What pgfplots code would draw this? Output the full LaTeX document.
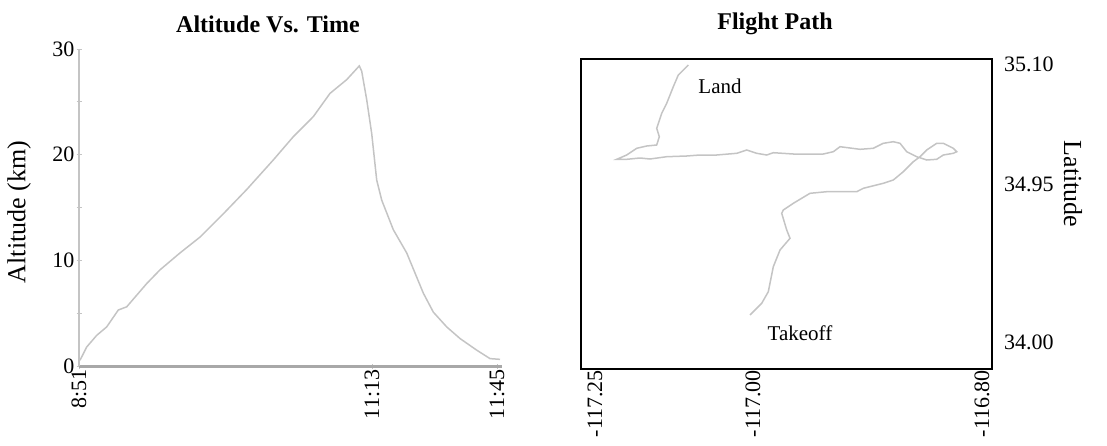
\documentclass[border=0pt]{standalone}
\usepackage{fontspec}
\setmainfont{Liberation Serif}
\usepackage{pgfplots}
\pgfplotsset{compat=1.18}
\definecolor{linegray}{HTML}{C4C4C4}
\definecolor{axgray}{HTML}{A8A8A8}
\begin{document}
\begin{tikzpicture}[x=1pt,y=1pt]
\useasboundingbox (0,0) rectangle (1107,445);
% ---------- Left: Altitude vs. Time ----------
\begin{axis}[
  at={(79pt,79pt)}, anchor=south west,
  scale only axis, width=423pt, height=317pt,
  xmin=79, xmax=502, ymin=0, ymax=30,
  axis x line*=bottom, axis y line*=left,
  x axis line style={axgray, line width=3pt},
  y axis line style={linegray, line width=1.2pt},
  xtick={79,372,497}, xticklabels={8:51,11:13,11:45},
  ytick={0,10,20,30}, minor ytick={5,15,25},
  major tick length=5pt, minor tick length=5pt,
  tick style={linegray, line width=1pt},
  tick align=center,
  xticklabel style={rotate=90, anchor=east, font=\fontsize{22}{24}\selectfont, inner sep=1pt},
  yticklabel style={font=\fontsize{22}{24}\selectfont, inner sep=2pt},
  /pgf/number format/assume math mode=true,
  clip=false,
]
\addplot[linegray, line width=1.5pt] coordinates {
(80,0.54) (86.7,1.8) (96.7,2.9) (106.7,3.7) (118.3,5.3) (126.7,5.6) (146.7,7.8)
(160,9.1) (180,10.7) (200,12.2) (223.3,14.4) (246.7,16.7) (273.3,19.5) (293.3,21.7)
(313.3,23.6) (330,25.8) (346.7,27.1) (359.3,28.4) (361.7,27.9) (366.7,25.2)
(371.7,22.0) (376.7,17.6) (381.7,15.7) (393.3,12.9) (406.7,10.7) (415,8.8)
(423.3,6.9) (433.3,5.1) (446.7,3.7) (460,2.6) (476.7,1.5) (490,0.7) (500,0.63)
};
\end{axis}
% ---------- Right: Flight path ----------
\begin{axis}[
  at={(581pt,76pt)}, anchor=south west,
  scale only axis, width=411pt, height=310pt,
  xmin=581, xmax=992, ymin=59, ymax=369, y dir=reverse,
  axis line style={black, line width=1.2pt},
  xtick={595,753,982}, xticklabels={-117.25,-117.00,-116.80},
  ytick={64,184,342}, yticklabels={35.10,34.95,34.00},
  yticklabel pos=right,
  major tick length=0pt,
  xticklabel style={rotate=90, anchor=east, font=\fontsize{22}{24}\selectfont, inner sep=1pt},
  yticklabel style={font=\fontsize{22}{24}\selectfont, inner sep=0pt, xshift=12pt},
  clip=false,
]
\addplot[linegray, line width=1.5pt] coordinates {
(750,315) (761.7,303.3) (768.3,291.7) (773.3,266.7) (780,250) (790,238.3)
(786.7,230) (781.7,213.3) (783.3,210) (793.3,203.3) (810,193.3) (826.7,191.7)
(856.7,191.7) (863.3,188.3) (883.3,183.3) (893.3,180) (903.3,171.7) (913.3,161.7)
(920,156.7) (926.7,150) (936.7,143.3) (943.3,143.3) (953.3,148.3) (956.7,151.7)
(953.3,153.3) (943.3,155) (936.7,159.3) (926.7,160) (916.7,156.7) (906.7,151.7)
(900,143.3) (893.3,141.7) (883.3,143.3) (873.3,148.3) (860,149.3) (840,146.7)
(833.3,151.7) (823.3,154) (793.3,154) (773.3,152.7) (766.7,155) (756.7,153.3)
(746.7,150) (736.7,153.3) (716.7,155) (700,155) (686.7,156) (666.7,156.7)
(650,159) (640,158) (626.7,159.3) (616.7,159.3) (626.7,155) (636.7,148.3)
(646.7,146) (656.7,145) (659.3,136.7) (656.7,128.3) (661.7,113.3) (666.7,103.3)
(673.3,86.7) (678.3,75) (688.3,65)
};
\node[font=\fontsize{21}{24}\selectfont] at (axis cs:720,86) {Land};
\node[font=\fontsize{21}{24}\selectfont] at (axis cs:800,333) {Takeoff};
\node[rotate=-90, font=\fontsize{26}{28}\selectfont] at (axis cs:1073,184) {Latitude};
\end{axis}
% ---------- Titles and left y label ----------
\node[font=\bfseries\fontsize{24}{26}\selectfont] at (268,421) {Altitude Vs. Time};
\node[font=\bfseries\fontsize{24}{26}\selectfont] at (775,421) {Flight Path};
\node[rotate=90, font=\fontsize{26}{28}\selectfont] at (19,233) {Altitude (km)};
\end{tikzpicture}
\end{document}
